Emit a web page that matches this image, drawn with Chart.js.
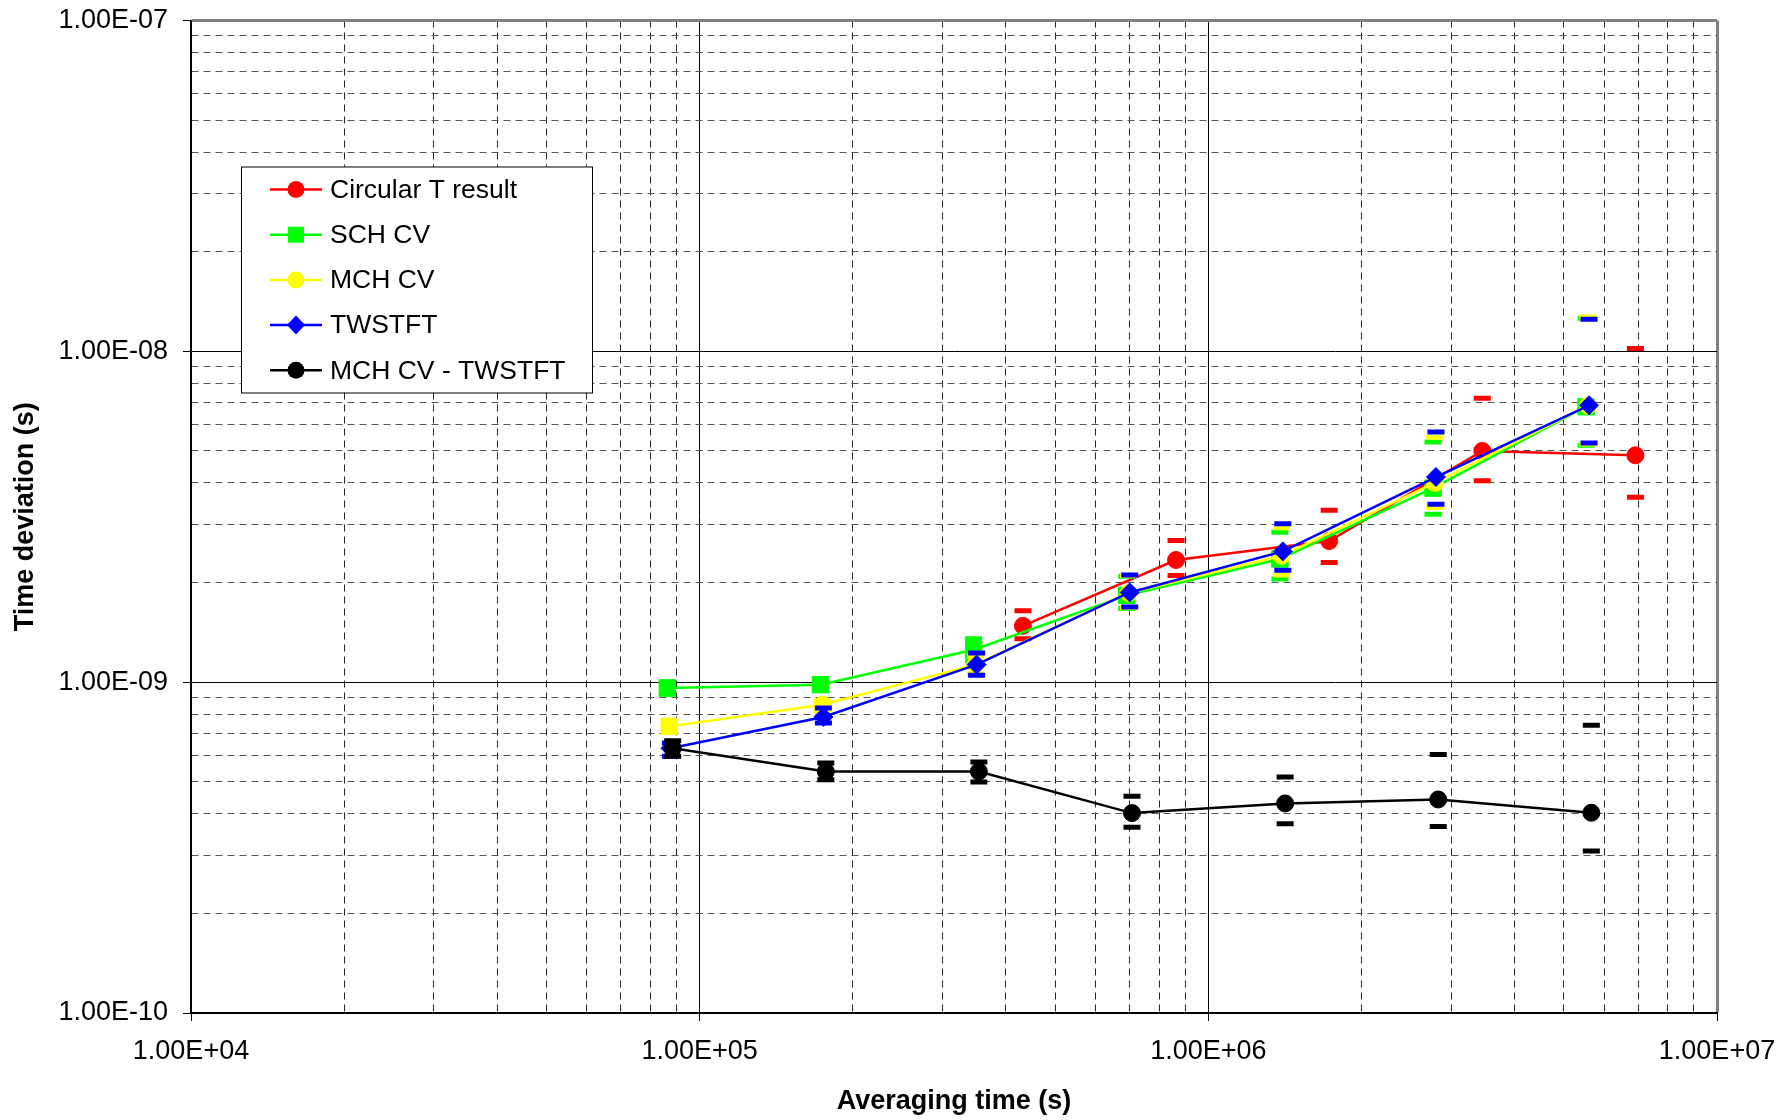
<!DOCTYPE html>
<html lang="en">
<head>
  <meta charset="UTF-8">
  <title>Time deviation - Circular T / CV / TWSTFT</title>
  <!-- Chart.js -->
  <script src="https://cdn.jsdelivr.net/npm/chart.js"></script>
  <style>
    body {
      margin: 0;
      background-color: #ffffff;
    }
    .chart-container {
      width: 1783px;
      height: 1120px;
    }
  </style>
</head>
<body>
  <div class="chart-container">
    <canvas id="tdevChart"></canvas>
  </div>

  <script>
    // Axis decades (log scales)
    const xDecades = [1e4, 1e5, 1e6, 1e7];
    const yDecades = [1e-10, 1e-9, 1e-8, 1e-7];
    const minorSteps = [2, 3, 4, 5, 6, 7, 8, 9];

    // Averaging times (s) per series (slightly shifted in the original so the bars don't overlap)
    const tauCircT = [432000, 864000, 1728000, 3456000, 6912000];
    const tauSCH = [86400, 172800, 345600, 691200, 1382400, 2764800, 5529600];
    const tauMCH = [87100, 174200, 348400, 696700, 1393400, 2786800, 5573600];
    const tauTW = [87600, 175100, 350300, 700500, 1401000, 2802000, 5604000];
    const tauDiff = [88500, 177000, 353900, 707800, 1415600, 2831200, 5662300];

    // Time deviation (s)
    const tdevCircT = [1.48e-9, 2.34e-9, 2.67e-9, 5.00e-9, 4.85e-9];
    const tdevSCH = [9.61e-10, 9.83e-10, 1.253e-9, 1.83e-9, 2.357e-9, 3.86e-9, 6.80e-9];
    const tdevMCH = [7.35e-10, 8.55e-10, 1.13e-9, 1.86e-9, 2.41e-9, 4.00e-9, 6.85e-9];
    const tdevTW = [6.31e-10, 7.85e-10, 1.13e-9, 1.867e-9, 2.485e-9, 4.17e-9, 6.87e-9];
    const tdevDiff = [6.31e-10, 5.37e-10, 5.37e-10, 4.02e-10, 4.30e-10, 4.42e-10, 4.03e-10];

    // Error bar ends (upper / lower)
    const hiCircT = [1.645e-9, 2.68e-9, 3.31e-9, 7.22e-9, 1.02e-8];
    const loCircT = [1.352e-9, 2.10e-9, 2.30e-9, 4.06e-9, 3.62e-9];
    const hiSCH = [1.00e-9, 1.02e-9, 1.352e-9, 2.09e-9, 2.84e-9, 5.32e-9, 1.26e-8];
    const loSCH = [9.2e-10, 9.45e-10, 1.16e-9, 1.67e-9, 2.05e-9, 3.22e-9, 5.20e-9];
    const hiMCH = [7.67e-10, 8.75e-10, 1.20e-9, 2.10e-9, 2.93e-9, 5.50e-9, 1.27e-8];
    const loMCH = [7.05e-10, 8.20e-10, 1.06e-9, 1.68e-9, 2.11e-9, 3.37e-9, 5.25e-9];
    const hiTW = [6.55e-10, 8.36e-10, 1.225e-9, 2.11e-9, 3.01e-9, 5.70e-9, 1.25e-8];
    const loTW = [5.97e-10, 7.53e-10, 1.05e-9, 1.686e-9, 2.18e-9, 3.45e-9, 5.28e-9];
    const hiDiff = [6.65e-10, 5.70e-10, 5.74e-10, 4.52e-10, 5.17e-10, 6.04e-10, 7.41e-10];
    const loDiff = [5.97e-10, 5.07e-10, 4.99e-10, 3.64e-10, 3.73e-10, 3.66e-10, 3.09e-10];

    const FONT = "'Liberation Sans', Arial, sans-serif";

    function points(xs, ys) {
      return xs.map((x, i) => ({ x: x, y: ys[i] }));
    }

    // "1.00E-09" style labels
    function sci(v) {
      const parts = v.toExponential(2).split('e');
      const n = parseInt(parts[1], 10);
      return parts[0] + 'E' + (n < 0 ? '-' : '+') + String(Math.abs(n)).padStart(2, '0');
    }

    function logTicks(decades) {
      const ticks = [];
      decades.forEach((d, i) => {
        ticks.push({ value: d, major: true });
        if (i < decades.length - 1) {
          minorSteps.forEach(m => ticks.push({ value: m * d, major: false }));
        }
      });
      return ticks;
    }

    const isMajor = c => !!(c.tick && c.tick.major);
    const isAt = (c, v) => !!(c.tick && Math.abs(Math.log10(c.tick.value) - Math.log10(v)) < 1e-6);

    function series(label, xs, ys, color, style, radius, order) {
      return {
        label: label,
        data: points(xs, ys),
        borderColor: color,
        backgroundColor: color,
        borderWidth: 2.5,
        showLine: true,
        pointStyle: style,
        pointRadius: radius,
        pointBorderWidth: 1,
        order: order
      };
    }

    function caps(xs, hi, lo, color, order) {
      return {
        label: '',
        data: points(xs, hi).concat(points(xs, lo)),
        borderColor: color,
        backgroundColor: color,
        showLine: false,
        pointStyle: 'line',
        pointRadius: 8.5,
        pointBorderWidth: 5,
        order: order
      };
    }

    const legendItems = [
      { text: 'Circular T result', color: '#ff0000', style: 'circle' },
      { text: 'SCH CV', color: '#00ff00', style: 'rect' },
      { text: 'MCH CV', color: '#ffff00', style: 'circle' },
      { text: 'TWSTFT', color: '#0000ff', style: 'diamond' },
      { text: 'MCH CV - TWSTFT', color: '#000000', style: 'circle' }
    ];

    // Legend box drawn inside the plot area (upper left)
    const boxLegend = {
      id: 'boxLegend',
      afterDraw(chart) {
        const ctx = chart.ctx;
        const area = chart.chartArea;
        const left = area.left + 50, top = area.top + 146;
        const w = 351, h = 226;
        ctx.save();
        ctx.fillStyle = '#ffffff';
        ctx.fillRect(left, top, w, h);
        ctx.strokeStyle = '#000000';
        ctx.lineWidth = 1;
        ctx.strokeRect(left + 0.5, top + 0.5, w, h);
        legendItems.forEach((item, i) => {
          const y = top + 23 + i * 45.2;
          const mx = left + 55;
          ctx.strokeStyle = item.color;
          ctx.fillStyle = item.color;
          ctx.lineWidth = 2.5;
          ctx.beginPath();
          ctx.moveTo(left + 29, y);
          ctx.lineTo(left + 81, y);
          ctx.stroke();
          ctx.beginPath();
          if (item.style === 'circle') {
            ctx.arc(mx, y, 8.5, 0, Math.PI * 2);
          } else if (item.style === 'rect') {
            ctx.rect(mx - 8, y - 8, 16, 16);
          } else {
            ctx.moveTo(mx - 9, y);
            ctx.lineTo(mx, y - 9.5);
            ctx.lineTo(mx + 9, y);
            ctx.lineTo(mx, y + 9.5);
            ctx.closePath();
          }
          ctx.fill();
          ctx.fillStyle = '#000000';
          ctx.font = '26.5px ' + FONT;
          ctx.textAlign = 'left';
          ctx.textBaseline = 'middle';
          ctx.fillText(item.text, left + 89, y + 1);
        });
        ctx.restore();
      }
    };

    new Chart(document.getElementById('tdevChart').getContext('2d'), {
      type: 'scatter',
      data: {
        datasets: [
          series('Circular T result', tauCircT, tdevCircT, '#ff0000', 'circle', 8.5, 8),
          caps(tauCircT, hiCircT, loCircT, '#ff0000', 9),
          series('SCH CV', tauSCH, tdevSCH, '#00ff00', 'rect', 11.6, 6),
          caps(tauSCH, hiSCH, loSCH, '#00ff00', 7),
          series('MCH CV', tauMCH, tdevMCH, '#ffff00', 'circle', 8.5, 4),
          caps(tauMCH, hiMCH, loMCH, '#ffff00', 5),
          series('TWSTFT', tauTW, tdevTW, '#0000ff', 'rectRot', 9.5, 2),
          caps(tauTW, hiTW, loTW, '#0000ff', 3),
          series('MCH CV - TWSTFT', tauDiff, tdevDiff, '#000000', 'circle', 8.5, 0),
          caps(tauDiff, hiDiff, loDiff, '#000000', 1)
        ]
      },
      options: {
        responsive: true,
        maintainAspectRatio: false,
        animation: false,
        devicePixelRatio: 1,
        events: [],
        layout: {
          padding: { top: 20.5, right: 66, bottom: 0, left: 0 }
        },
        plugins: {
          legend: { display: false },
          tooltip: { enabled: false }
        },
        scales: {
          x: {
            type: 'logarithmic',
            min: xDecades[0],
            max: xDecades[xDecades.length - 1],
            afterBuildTicks: s => { s.ticks = logTicks(xDecades); },
            afterFit: s => {
              s.height = 107;
              s.paddingLeft = 0;
              s.paddingRight = 0;
            },
            ticks: {
              autoSkip: false,
              maxRotation: 0,
              padding: 14,
              color: '#000000',
              font: { family: FONT, size: 27 },
              callback: (v, i, t) => (t[i].major ? sci(v) : '')
            },
            grid: {
              color: c => isAt(c, xDecades[xDecades.length - 1]) ? '#808080' : (isMajor(c) ? '#000000' : '#222222'),
              lineWidth: c => isAt(c, xDecades[xDecades.length - 1]) ? 3 : 1,
              tickColor: c => isMajor(c) ? '#000000' : 'rgba(0,0,0,0)',
              tickWidth: 1,
              tickLength: 8
            },
            border: {
              color: '#000000',
              width: 2,
              dash: c => (c.tick && !c.tick.major ? [7, 5] : [])
            },
            title: {
              display: true,
              text: 'Averaging time (s)',
              color: '#000000',
              font: { family: FONT, size: 27, weight: 'bold' },
              padding: { top: 0, bottom: 2 }
            }
          },
          y: {
            type: 'logarithmic',
            min: yDecades[0],
            max: yDecades[yDecades.length - 1],
            afterBuildTicks: s => { s.ticks = logTicks(yDecades); },
            afterFit: s => {
              s.width = 191;
              s.paddingTop = 0;
              s.paddingBottom = 0;
            },
            ticks: {
              autoSkip: false,
              padding: 15,
              color: '#000000',
              font: { family: FONT, size: 27 },
              callback: (v, i, t) => (t[i].major ? sci(v) : '')
            },
            grid: {
              color: c => isAt(c, yDecades[yDecades.length - 1]) ? '#808080' : (isMajor(c) ? '#000000' : '#555555'),
              lineWidth: c => isAt(c, yDecades[yDecades.length - 1]) ? 3 : 1,
              tickColor: c => isMajor(c) ? '#000000' : 'rgba(0,0,0,0)',
              tickWidth: 1,
              tickLength: 8
            },
            border: {
              color: '#000000',
              width: 1.5,
              dash: c => (c.tick && !c.tick.major ? [7, 5] : [])
            },
            title: {
              display: true,
              text: 'Time deviation (s)',
              color: '#000000',
              font: { family: FONT, size: 27, weight: 'bold' },
              padding: { top: 9, bottom: 0 }
            }
          }
        }
      },
      plugins: [boxLegend]
    });
  </script>
</body>
</html>
